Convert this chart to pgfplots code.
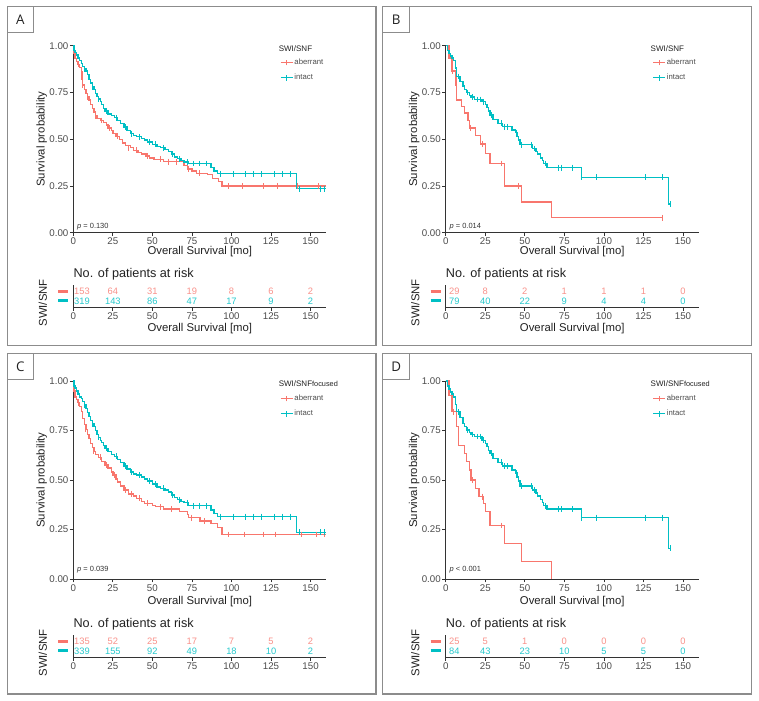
\documentclass[border=0pt]{standalone}
\usepackage{pgfplots}
\pgfplotsset{compat=1.18}
\usepackage{fontspec}
\setmainfont{Liberation Sans}
\newfontfamily\osans{Open Sans}
\definecolor{kmred}{HTML}{F8766D}
\definecolor{kmteal}{HTML}{00BFC4}
\definecolor{axgray}{HTML}{333333}
\definecolor{txtgray}{HTML}{4D4D4D}
\definecolor{labdark}{HTML}{222222}
\definecolor{boxgray}{HTML}{8C8C8C}
\pgfplotsset{
  base/.style={scale only axis, width=189.8pt, xmin=0, xmax=160,
    axis lines=left, axis line style={-, draw=axgray, line width=0.55pt},
    tick align=outside, major tick length=2.5pt,
    tick style={draw=axgray, line width=0.55pt},
    xtick={0,25,50,75,100,125,150},
    tick label style={font=\fontsize{7.3}{8}\selectfont, text=txtgray, inner sep=1pt},
    xticklabel style={text height=5.3pt, text depth=0pt},
    /pgf/number format/assume math mode=true, clip=false,
    label style={font=\fontsize{8.5}{10}\selectfont, text=labdark}},
  km/.style={base, ymin=0, ymax=1, ytick={0,0.25,0.5,0.75,1},
    yticklabels={0.00,0.25,0.50,0.75,1.00},
    ylabel={Survival probability},
    ylabel style={at={(axis description cs:-0.125,0.5)}, anchor=center},
    xlabel={Overall Survival [mo]},
    legend style={at={(axis description cs:0.817,0.936)}, anchor=north west, draw=none, fill=none,
      inner sep=0pt, row sep=4.3pt, font=\fontsize{5.8}{6}\selectfont, text=txtgray,
      nodes={inner sep=0.8pt, text height=4.3pt, text depth=1.2pt}},
    legend cell align=left,
    legend image code/.code={\draw[##1] (0pt,0pt) -- (9pt,0pt); \draw[##1] (4.5pt,-2pt) -- (4.5pt,2pt);}},
  rt/.style={base, height=16.5pt, ymin=0, ymax=1, ytick={0.29,0.71},
    yticklabels={{\color{kmteal}\rule{7.5pt}{2.2pt}},{\color{kmred}\rule{7.5pt}{2.2pt}}},
    y tick style={draw=none}, yticklabel style={inner sep=0pt, xshift=-1.2pt},
    ylabel={SWI/SNF},
    ylabel style={at={(axis description cs:-0.12,0.2)}, anchor=center}},
  curve/.style={line width=1pt, const plot, forget plot},
  cens/.style={only marks, mark=|, mark size=2.2pt, mark options={line width=0.7pt}, forget plot},
  rnum/.style={draw=none, mark=none, nodes near coords, point meta=explicit symbolic, forget plot,
    every node near coord/.append style={anchor=center, inner sep=0pt, font=\fontsize{7}{8}\selectfont, text=#1}}
}
\begin{document}
\begin{tikzpicture}[x=0.75pt, y=0.75pt]
\useasboundingbox (0,0) rectangle (759,700);
\fill[white] (0,0) rectangle (759,700);
% panel frames
\draw[boxgray, line width=0.9pt] (7.3,354.3) rectangle (376,693.3);
\draw[boxgray, line width=0.9pt] (382.7,354.3) rectangle (751.7,693.3);
\draw[boxgray, line width=0.9pt] (7.3,6) rectangle (376,346.7);
\draw[boxgray, line width=0.9pt] (382.7,6) rectangle (751.7,346.7);
\draw[boxgray, line width=0.9pt] (7.3,667.7) rectangle (33.3,693.3);
\node[font=\osans\fontsize{10}{12}\selectfont, text=labdark] at (20.3,680.5) {A};
\draw[boxgray, line width=0.9pt] (382.7,667.7) rectangle (409.7,693.3);
\node[font=\osans\fontsize{10}{12}\selectfont, text=labdark] at (396.2,680.5) {B};
\draw[boxgray, line width=0.9pt] (7.3,320.7) rectangle (33.3,346.7);
\node[font=\osans\fontsize{10}{12}\selectfont, text=labdark] at (20.3,333.7) {C};
\draw[boxgray, line width=0.9pt] (382.7,320.7) rectangle (409.7,346.7);
\node[font=\osans\fontsize{10}{12}\selectfont, text=labdark] at (396.2,333.7) {D};

%%%%%%%%%%%%%%%% PANEL A
\begin{axis}[km, at={(54.98pt,350.48pt)}, anchor=south west, height=140.25pt,
  xlabel style={at={(axis description cs:0.5,-0.099)}, anchor=center}]
\addplot[kmred, curve] coordinates {(0,1)(0.5,0.96)(1,0.93)(2,0.915)(3,0.90)(4,0.885)(5,0.86)(5.5,0.82)(6,0.79)(7,0.765)(8,0.745)(9,0.725)(10,0.71)(11,0.685)(12,0.665)(13,0.645)(14,0.625)(15,0.61)(17,0.60)(19,0.59)(21,0.575)(22,0.56)(24,0.545)(25,0.53)(27,0.515)(29,0.50)(31,0.48)(33,0.465)(36,0.455)(38,0.44)(41,0.43)(43,0.42)(46,0.41)(48,0.40)(51,0.392)(57,0.38)(70,0.36)(72,0.34)(75,0.33)(78,0.317)(85,0.31)(88,0.29)(92,0.275)(94,0.25)(160,0.25)};
\addplot[kmred, cens] coordinates {(3,0.90)(6,0.79)(9,0.725)(14,0.625)(18,0.60)(23,0.56)(28,0.515)(35,0.455)(40,0.44)(47,0.41)(55,0.392)(60,0.38)(65,0.38)(73,0.34)(80,0.317)(98,0.25)(107,0.25)(120,0.25)(129,0.25)(142,0.25)(155,0.25)};
\addplot[kmteal, curve] coordinates {(0,1)(0.5,0.975)(1,0.965)(2,0.95)(3,0.935)(4,0.92)(5,0.905)(6,0.89)(7,0.875)(8,0.865)(9,0.845)(10,0.82)(11,0.80)(12,0.78)(13,0.765)(14,0.745)(15,0.73)(16,0.715)(17,0.70)(18,0.685)(19,0.665)(20,0.65)(22,0.635)(24,0.625)(26,0.615)(28,0.60)(30,0.585)(32,0.565)(34,0.545)(36,0.53)(38,0.52)(40,0.513)(43,0.505)(45,0.495)(47,0.485)(50,0.472)(53,0.46)(55,0.455)(58,0.445)(60,0.433)(62,0.42)(64,0.405)(66,0.395)(68,0.385)(70,0.378)(73,0.37)(87,0.35)(89,0.33)(91,0.315)(141,0.235)(160,0.235)};
\addplot[kmteal, cens] coordinates {(7,0.875)(12,0.78)(16,0.715)(21,0.65)(27,0.615)(33,0.565)(37,0.53)(42,0.513)(48,0.485)(52,0.472)(57,0.455)(63,0.42)(67,0.395)(72,0.378)(76,0.37)(80,0.37)(84,0.37)(93,0.315)(101,0.315)(109,0.315)(114,0.315)(119,0.315)(127,0.315)(132,0.315)(137,0.315)(143,0.235)(156,0.235)(159,0.235)};
\addlegendimage{kmred, line width=0.8pt}\addlegendentry{aberrant}
\addlegendimage{kmteal, line width=0.8pt}\addlegendentry{intact}
\node[anchor=west, inner sep=0pt, font=\fontsize{6}{7}\selectfont, text=labdark] at (axis description cs:0.811,0.982) {SWI/SNF};
\node[anchor=west, inner sep=0pt, font=\fontsize{5.6}{6}\selectfont, text=axgray] at (axis cs:2.3,0.03) {\textit{p} = 0.130};
\end{axis}
\begin{axis}[rt, at={(54.98pt,294.53pt)}, anchor=south west,
  xlabel={Overall Survival [mo]}, xlabel style={at={(axis description cs:0.5,-0.955)}, anchor=center}]
\addplot[rnum=kmred!80!white] table[meta=n, row sep=\\] {x y n\\5.5 0.71 153\\25 0.71 64\\50 0.71 31\\75 0.71 19\\100 0.71 8\\125 0.71 6\\150 0.71 2\\};
\addplot[rnum=kmteal!85!white] table[meta=n, row sep=\\] {x y n\\5.5 0.29 319\\25 0.29 143\\50 0.29 86\\75 0.29 47\\100 0.29 17\\125 0.29 9\\150 0.29 2\\};
\node[anchor=base west, inner sep=0pt, yshift=5.6pt, font=\fontsize{9.5}{11}\selectfont, text=labdark] at (axis description cs:0,1) {No. of patients at risk};
\end{axis}

%%%%%%%%%%%%%%%% PANEL B
\begin{axis}[km, at={(334.28pt,350.48pt)}, anchor=south west, height=140.25pt,
  xlabel style={at={(axis description cs:0.5,-0.099)}, anchor=center}]
\addplot[kmred, curve] coordinates {(0,1)(2,0.935)(4,0.865)(6,0.83)(6.5,0.79)(7,0.71)(10,0.675)(12,0.64)(14,0.60)(15,0.56)(19,0.52)(22,0.475)(25,0.425)(28,0.37)(37,0.25)(48,0.165)(67,0.08)(137,0.08)};
\addplot[kmred, cens] coordinates {(4.5,0.865)(15.5,0.56)(23,0.475)(35,0.37)(46,0.25)(137,0.08)};
\addplot[kmteal, curve] coordinates {(0,1)(1,0.975)(2,0.96)(3,0.945)(4,0.935)(5,0.92)(6,0.88)(7,0.835)(9,0.81)(11,0.785)(12,0.765)(13,0.75)(15,0.735)(16,0.725)(18,0.712)(23,0.70)(25,0.685)(26,0.67)(27,0.65)(28,0.63)(30,0.605)(33,0.585)(36,0.567)(42,0.55)(44,0.535)(45,0.515)(46,0.495)(47,0.47)(55,0.45)(57,0.435)(58,0.42)(60,0.40)(61,0.385)(62,0.37)(64,0.348)(86,0.296)(141,0.153)(142,0.153)};
\addplot[kmteal, cens] coordinates {(8,0.835)(14,0.75)(17,0.725)(20,0.712)(22,0.712)(24,0.70)(29,0.63)(35,0.585)(37,0.567)(39,0.567)(44.5,0.535)(48,0.47)(54,0.47)(56,0.45)(63,0.37)(71,0.348)(73,0.348)(80,0.348)(86,0.296)(95,0.296)(126,0.296)(137,0.296)(142,0.153)};
\addlegendimage{kmred, line width=0.8pt}\addlegendentry{aberrant}
\addlegendimage{kmteal, line width=0.8pt}\addlegendentry{intact}
\node[anchor=west, inner sep=0pt, font=\fontsize{6}{7}\selectfont, text=labdark] at (axis description cs:0.809,0.982) {SWI/SNF};
\node[anchor=west, inner sep=0pt, font=\fontsize{5.6}{6}\selectfont, text=axgray] at (axis cs:2.3,0.03) {\textit{p} = 0.014};
\end{axis}
\begin{axis}[rt, at={(334.28pt,294.53pt)}, anchor=south west,
  xlabel={Overall Survival [mo]}, xlabel style={at={(axis description cs:0.5,-0.955)}, anchor=center}]
\addplot[rnum=kmred!80!white] table[meta=n, row sep=\\] {x y n\\5.5 0.71 29\\25 0.71 8\\50 0.71 2\\75 0.71 1\\100 0.71 1\\125 0.71 1\\150 0.71 0\\};
\addplot[rnum=kmteal!85!white] table[meta=n, row sep=\\] {x y n\\5.5 0.29 79\\25 0.29 40\\50 0.29 22\\75 0.29 9\\100 0.29 4\\125 0.29 4\\150 0.29 0\\};
\node[anchor=base west, inner sep=0pt, yshift=5.6pt, font=\fontsize{9.5}{11}\selectfont, text=labdark] at (axis description cs:0,1) {No. of patients at risk};
\end{axis}

%%%%%%%%%%%%%%%% PANEL C
\begin{axis}[km, at={(54.98pt,90.75pt)}, anchor=south west, height=148.5pt,
  xlabel style={at={(axis description cs:0.5,-0.115)}, anchor=center}]
\addplot[kmred, curve] coordinates {(0,1)(0.5,0.95)(1,0.92)(2,0.905)(3,0.89)(4,0.87)(5,0.845)(6,0.81)(7,0.78)(8,0.755)(9,0.73)(10,0.71)(11,0.685)(12,0.665)(13,0.645)(14,0.63)(16,0.615)(18,0.595)(20,0.575)(22,0.56)(24,0.54)(25,0.525)(27,0.505)(28,0.49)(30,0.47)(32,0.45)(35,0.43)(38,0.42)(40,0.407)(43,0.39)(45,0.382)(50,0.372)(52,0.365)(57,0.354)(67,0.34)(72,0.325)(73,0.31)(80,0.293)(87,0.28)(91,0.26)(94,0.225)(160,0.225)};
\addplot[kmred, cens] coordinates {(3,0.89)(8,0.755)(13,0.645)(17,0.615)(21,0.575)(26,0.525)(33,0.45)(37,0.43)(42,0.407)(47,0.382)(55,0.365)(62,0.354)(75,0.31)(83,0.293)(98,0.225)(108,0.225)(120,0.225)(128,0.225)(144,0.225)(154,0.225)(159,0.225)};
\addplot[kmteal, curve] coordinates {(0,1)(0.5,0.975)(1,0.965)(2,0.95)(3,0.935)(4,0.92)(5,0.91)(6,0.895)(7,0.88)(8,0.86)(9,0.84)(10,0.82)(11,0.80)(12,0.785)(13,0.77)(14,0.75)(15,0.73)(16,0.715)(17,0.70)(18,0.69)(19,0.675)(20,0.66)(22,0.645)(24,0.63)(26,0.62)(28,0.605)(30,0.59)(32,0.57)(34,0.555)(36,0.54)(38,0.53)(40,0.525)(43,0.515)(45,0.505)(47,0.495)(50,0.48)(53,0.465)(55,0.458)(58,0.45)(60,0.44)(62,0.425)(64,0.41)(66,0.40)(68,0.39)(70,0.385)(73,0.37)(87,0.348)(89,0.33)(91,0.315)(141,0.236)(160,0.236)};
\addplot[kmteal, cens] coordinates {(7,0.88)(12,0.785)(16,0.715)(21,0.66)(27,0.62)(33,0.57)(37,0.54)(42,0.525)(48,0.495)(52,0.48)(57,0.458)(63,0.425)(67,0.40)(72,0.385)(76,0.37)(80,0.37)(84,0.37)(93,0.315)(101,0.315)(109,0.315)(114,0.315)(119,0.315)(127,0.315)(132,0.315)(137,0.315)(143,0.236)(156,0.236)(159,0.236)};
\addlegendimage{kmred, line width=0.8pt}\addlegendentry{aberrant}
\addlegendimage{kmteal, line width=0.8pt}\addlegendentry{intact}
\node[anchor=west, inner sep=0pt, font=\fontsize{6}{7}\selectfont, text=labdark] at (axis description cs:0.811,0.985) {SWI/SNF{\fontsize{5.5}{6}\selectfont focused}};
\node[anchor=west, inner sep=0pt, font=\fontsize{5.6}{6}\selectfont, text=axgray] at (axis cs:2.3,0.045) {\textit{p} = 0.039};
\end{axis}
\begin{axis}[rt, at={(54.98pt,32.03pt)}, anchor=south west]
\addplot[rnum=kmred!80!white] table[meta=n, row sep=\\] {x y n\\5.5 0.71 135\\25 0.71 52\\50 0.71 25\\75 0.71 17\\100 0.71 7\\125 0.71 5\\150 0.71 2\\};
\addplot[rnum=kmteal!85!white] table[meta=n, row sep=\\] {x y n\\5.5 0.29 339\\25 0.29 155\\50 0.29 92\\75 0.29 49\\100 0.29 18\\125 0.29 10\\150 0.29 2\\};
\node[anchor=base west, inner sep=0pt, yshift=6pt, font=\fontsize{9.5}{11}\selectfont, text=labdark] at (axis description cs:0,1) {No. of patients at risk};
\end{axis}

%%%%%%%%%%%%%%%% PANEL D
\begin{axis}[km, at={(334.28pt,90.75pt)}, anchor=south west, height=148.5pt,
  xlabel style={at={(axis description cs:0.5,-0.115)}, anchor=center}]
\addplot[kmred, curve] coordinates {(0,1)(2,0.926)(4,0.845)(7,0.77)(8,0.673)(12,0.635)(13,0.593)(15,0.55)(16,0.50)(19,0.458)(21,0.416)(24,0.382)(25,0.34)(28,0.27)(37,0.178)(48,0.0875)(67,0)};
\addplot[kmred, cens] coordinates {(5,0.845)(17,0.50)(23,0.416)(35,0.27)};
\addplot[kmteal, curve] coordinates {(0,1)(1,0.975)(2,0.96)(3,0.945)(4,0.935)(5,0.92)(6,0.88)(7,0.845)(9,0.815)(11,0.785)(12,0.77)(13,0.752)(15,0.74)(16,0.73)(18,0.72)(23,0.70)(25,0.685)(26,0.67)(27,0.65)(28,0.635)(30,0.61)(33,0.59)(36,0.57)(42,0.55)(44,0.535)(45,0.515)(46,0.495)(47,0.47)(55,0.45)(57,0.435)(58,0.42)(60,0.40)(61,0.385)(62,0.37)(64,0.353)(86,0.31)(141,0.155)(142,0.155)};
\addplot[kmteal, cens] coordinates {(8,0.845)(14,0.752)(17,0.73)(20,0.72)(22,0.72)(24,0.70)(29,0.635)(35,0.59)(37,0.57)(39,0.57)(44.5,0.535)(48,0.47)(54,0.47)(56,0.45)(63,0.37)(71,0.353)(73,0.353)(80,0.353)(86,0.31)(95,0.31)(126,0.31)(137,0.31)(142,0.155)};
\addlegendimage{kmred, line width=0.8pt}\addlegendentry{aberrant}
\addlegendimage{kmteal, line width=0.8pt}\addlegendentry{intact}
\node[anchor=west, inner sep=0pt, font=\fontsize{6}{7}\selectfont, text=labdark] at (axis description cs:0.809,0.985) {SWI/SNF{\fontsize{5.5}{6}\selectfont focused}};
\node[anchor=west, inner sep=0pt, font=\fontsize{5.6}{6}\selectfont, text=axgray] at (axis cs:2.3,0.045) {\textit{p} < 0.001};
\end{axis}
\begin{axis}[rt, at={(334.28pt,32.03pt)}, anchor=south west]
\addplot[rnum=kmred!80!white] table[meta=n, row sep=\\] {x y n\\5.5 0.71 25\\25 0.71 5\\50 0.71 1\\75 0.71 0\\100 0.71 0\\125 0.71 0\\150 0.71 0\\};
\addplot[rnum=kmteal!85!white] table[meta=n, row sep=\\] {x y n\\5.5 0.29 84\\25 0.29 43\\50 0.29 23\\75 0.29 10\\100 0.29 5\\125 0.29 5\\150 0.29 0\\};
\node[anchor=base west, inner sep=0pt, yshift=6pt, font=\fontsize{9.5}{11}\selectfont, text=labdark] at (axis description cs:0,1) {No. of patients at risk};
\end{axis}
\end{tikzpicture}
\end{document}
